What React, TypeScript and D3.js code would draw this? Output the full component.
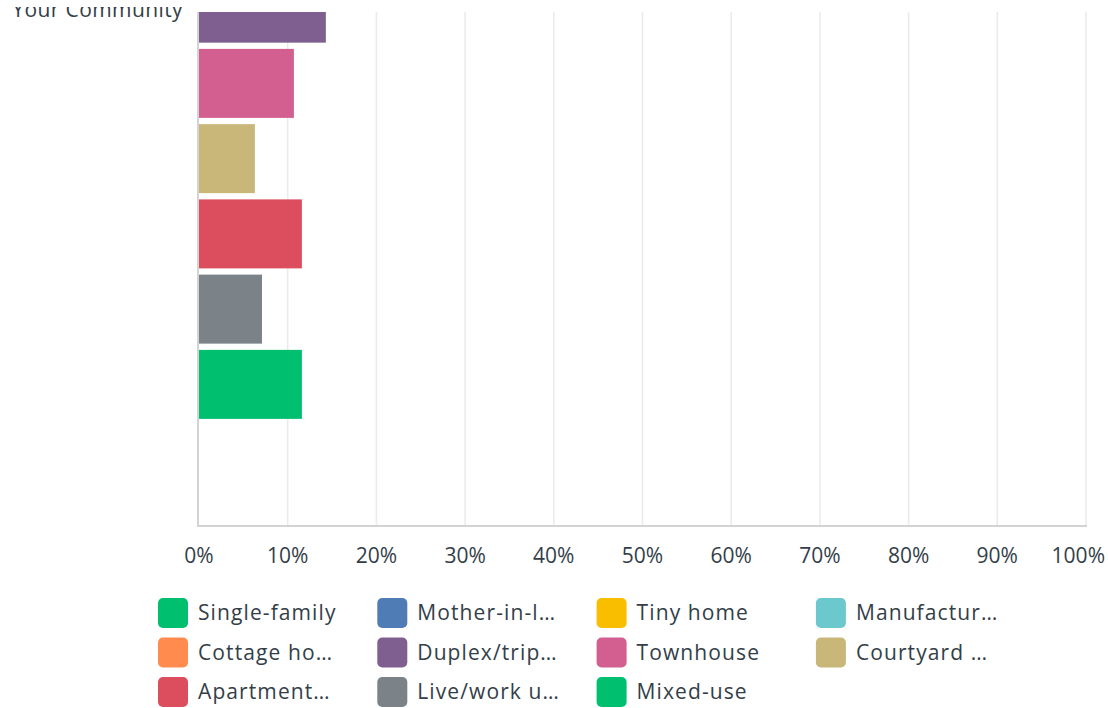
import React from "react";
import * as d3 from "d3";

const categories: string[] = ["Your Community"];
const seriesNames: string[] = [
  "Single-family",
  "Mother-in-law unit",
  "Tiny home",
  "Manufactured home",
  "Cottage housing",
  "Duplex/triplex/fourplex",
  "Townhouse",
  "Courtyard apartments",
  "Apartment building",
  "Live/work units",
  "Mixed-use",
];
const legendLabels: string[] = [
  "Single-family",
  "Mother-in-l…",
  "Tiny home",
  "Manufactur…",
  "Cottage ho…",
  "Duplex/trip…",
  "Townhouse",
  "Courtyard …",
  "Apartment…",
  "Live/work u…",
  "Mixed-use",
];
const seriesColors: string[] = [
  "#00bf6f",
  "#507cb6",
  "#f9be00",
  "#6bc8cd",
  "#ff8b4f",
  "#7f5f90",
  "#d25f90",
  "#c9b77a",
  "#dc4e5e",
  "#7b8288",
  "#00bf6f",
];
// percent values per series for "Your Community"
const values: number[] = [20.5, 5.4, 4.5, 1.8, 6.3, 14.3, 10.7, 6.3, 11.6, 7.1, 11.6];
const xTicks: number[] = [0, 10, 20, 30, 40, 50, 60, 70, 80, 90, 100];

const W = 1108;
const H = 708;
const FONT = "'Open Sans', sans-serif";
const TEXT = "#333e48";

export default function App() {
  const plotLeft = 199;
  const plotRight = 1086;
  const plotBottom = 526;
  const plotTop = 12;

  const x = d3.scaleLinear().domain([0, 100]).range([plotLeft, plotRight]);
  const y0 = d3
    .scaleBand<string>()
    .domain(categories)
    .range([-509.7, plotBottom])
    .paddingInner(0)
    .paddingOuter(0);
  const inner = d3
    .scaleBand<string>()
    .domain(seriesNames)
    .range([104, y0.bandwidth() - 104])
    .paddingInner(0.083)
    .paddingOuter(0.0415);

  const legendCols = 4;
  const legendX0 = 158;
  const legendColW = 219.3;
  const legendY0 = 598;
  const legendRowH = 39.5;

  return (
    <svg
      width={W}
      height={H}
      style={{ position: "absolute", left: 0, top: 0, background: "#fff" }}
      fontFamily={FONT}
    >
      <defs>
        <clipPath id="plotClip">
          <rect x={0} y={plotTop} width={W} height={plotBottom - plotTop + 2} />
        </clipPath>
        <clipPath id="labelClip">
          <rect x={0} y={7} width={W} height={H} />
        </clipPath>
      </defs>

      {/* grid lines */}
      <g clipPath="url(#plotClip)">
        {xTicks
          .filter((t) => t > 0)
          .map((t) => (
            <line
              key={t}
              x1={x(t)}
              x2={x(t)}
              y1={plotTop}
              y2={plotBottom}
              stroke="#ebebeb"
              strokeWidth={1.6}
            />
          ))}
      </g>

      {/* bars */}
      <g clipPath="url(#plotClip)">
        {categories.map((c) => (
          <g key={c} transform={`translate(0,${y0(c)})`}>
            {seriesNames.map((s, i) => (
              <rect
                key={s}
                x={x(0)}
                y={inner(s)}
                width={x(values[i]) - x(0)}
                height={inner.bandwidth()}
                fill={seriesColors[i]}
              />
            ))}
          </g>
        ))}
      </g>

      {/* axes */}
      <line x1={198} x2={198} y1={plotTop} y2={plotBottom + 1} stroke="#d3d3d3" strokeWidth={2} />
      <line x1={197} x2={plotRight + 1} y1={plotBottom} y2={plotBottom} stroke="#d3d3d3" strokeWidth={2} />

      {/* category labels */}
      <g clipPath="url(#labelClip)">
        {categories.map((c) => (
          <text
            key={c}
            x={183}
            y={(y0(c) as number) + y0.bandwidth() / 2}
            dy="0.4em"
            textAnchor="end"
            fontSize={21}
            letterSpacing={0.4}
            fill={TEXT}
          >
            {c}
          </text>
        ))}
      </g>

      {/* x tick labels */}
      {xTicks.map((t) => {
        const last = t === 100;
        return (
          <text
            key={t}
            x={last ? W - 3 : x(t)}
            y={556}
            dy="0.35em"
            textAnchor={last ? "end" : "middle"}
            fontSize={21}
            fill={TEXT}
          >
            {`${t}%`}
          </text>
        );
      })}

      {/* legend */}
      {legendLabels.map((l, i) => {
        const col = i % legendCols;
        const row = Math.floor(i / legendCols);
        const lx = legendX0 + col * legendColW;
        const ly = legendY0 + row * legendRowH;
        return (
          <g key={l} transform={`translate(${lx},${ly})`}>
            <rect width={30} height={30} rx={5} fill={seriesColors[i]} />
            <text x={40} y={15} dy="0.35em" fontSize={21} letterSpacing={1.1} fill={TEXT}>
              {l}
            </text>
          </g>
        );
      })}
    </svg>
  );
}
